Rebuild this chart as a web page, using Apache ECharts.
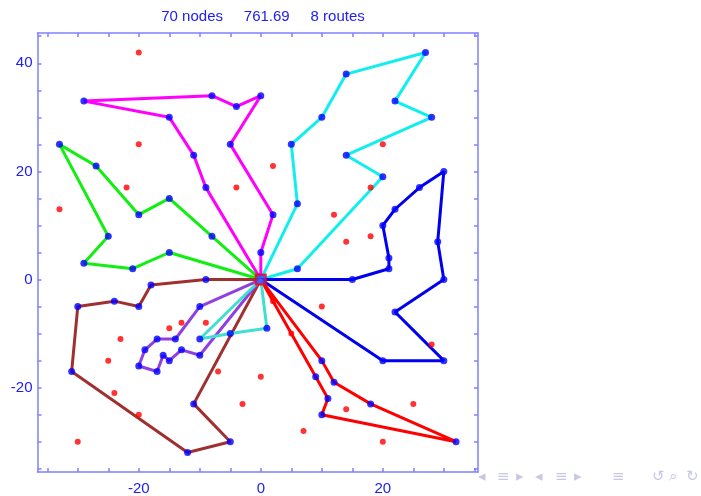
<!DOCTYPE html>
<html>
<head>
<meta charset="utf-8">
<script src="https://cdn.jsdelivr.net/npm/echarts@6/dist/echarts.min.js"></script>
<style>
  html, body { margin: 0; padding: 0; background: #fff; }
  #chart { width: 701px; height: 496px; }
</style>
</head>
<body>
<div id="chart"></div>
<script>
  // route node coordinates, each loop starts and ends at the depot
  const depot = [0, 0];
  const routeMagenta = [[0, 0], [-9, 17], [-11, 23], [-15, 30], [-29, 33], [-8, 34], [-4, 32], [0, 34], [-5, 25], [2, 12], [0, 5], [0, 0]];
  const routeGreen = [[0, 0], [-8, 8], [-15, 15], [-20, 12], [-27, 21], [-33, 25], [-25, 8], [-29, 3], [-21, 2], [-15, 5], [0, 0]];
  const routeCyan = [[0, 0], [6, 2], [20, 19], [14, 23], [28, 30], [22, 33], [27, 42], [14, 38], [10, 30], [5, 25], [6, 14], [0, 0]];
  const routeBlue = [[0, 0], [15, 0], [21, 2], [21, 4], [20, 10], [22, 13], [26, 17], [30, 20], [29, 7], [30, 0], [22, -6], [30, -15], [20, -15], [0, 0]];
  const routeRed = [[0, 0], [9, -18], [11, -22], [10, -25], [32, -30], [18, -23], [12, -19], [10, -15], [0, 0]];
  const routeBrown = [[0, 0], [-9, 0], [-18, -1], [-20, -5], [-24, -4], [-30, -5], [-31, -17], [-12, -32], [-5, -30], [-11, -23], [0, 0]];
  const routePurple = [[0, 0], [-10, -5], [-14, -11], [-17, -11], [-19, -13], [-20, -16], [-17, -17], [-16, -14], [-15, -15], [-13, -13], [-10, -14], [0, 0]];
  const routeTurq = [[0, 0], [-10, -11], [-5, -10], [1, -9], [0, 0]];

  // nodes not on any route
  const otherNodes = [[-20, 42], [-20, 25], [-22, 17], [-4, 17], [-33, 13], [2, 21], [20, 25], [18, 17], [12, 12], [14, 7], [18, 8],
    [2, -4], [10, -5], [5, -10], [28, -12], [0, -18], [14, -24], [25, -23], [7, -28], [20, -30],
    [-15, -9], [-13, -8], [-9, -8], [-23, -11], [-25, -15], [-7, -17], [-24, -21], [-3, -23], [-20, -25], [-30, -30]];

  const xTicks = [-35, -30, -25, -20, -15, -10, -5, 0, 5, 10, 15, 20, 25, 30, 35];
  const yTicks = [-35, -30, -25, -20, -15, -10, -5, 0, 5, 10, 15, 20, 25, 30, 35, 40, 45];
  const xLabels = [-20, 0, 20];
  const yLabels = [-20, 0, 20, 40];

  const routes = [
    { data: routeMagenta, color: '#ff00ff' },
    { data: routeGreen, color: '#11ee11' },
    { data: routeCyan, color: '#11eeee' },
    { data: routeBlue, color: '#0000ee' },
    { data: routeRed, color: '#ff0000' },
    { data: routeBrown, color: '#a03030' },
    { data: routePurple, color: '#9040e0' },
    { data: routeTurq, color: '#40e0d0' },
  ];

  const axisColor = '#8080ff';
  const labelColor = '#2020ee';

  function makeAxis(pos, min, max, ticks, labels) {
    return {
      type: 'value',
      position: pos,
      min: min,
      max: max,
      splitLine: { show: false },
      axisLine: { show: true, onZero: false, lineStyle: { color: axisColor, width: 1.5 } },
      axisTick: { show: true, inside: true, length: 4, customValues: ticks, lineStyle: { color: axisColor, width: 1.5 } },
      axisLabel: {
        show: labels.length > 0,
        customValues: labels,
        color: labelColor,
        fontSize: 15,
        fontFamily: 'Liberation Sans',
        margin: pos === 'left' ? 5 : 9,
      },
    };
  }

  // collect all route nodes (skip depot)
  const routeNodes = [];
  routes.forEach(r => r.data.forEach(p => { if (p[0] !== 0 || p[1] !== 0) routeNodes.push(p); }));

  const series = routes.map(r => ({
    type: 'line',
    data: r.data,
    showSymbol: false,
    silent: true,
    lineStyle: { color: r.color, width: 3 },
    z: 2,
  }));
  series.push({
    type: 'scatter',
    data: otherNodes,
    symbolSize: 6,
    itemStyle: { color: '#ff0000' },
    z: 3,
  });
  series.push({
    type: 'scatter',
    data: routeNodes,
    symbolSize: 7,
    itemStyle: { color: '#0000ff' },
    z: 4,
  });
  series.push({
    type: 'scatter',
    data: [depot],
    symbol: 'rect',
    symbolSize: 10,
    itemStyle: { color: '#4040ff', borderColor: '#ff0000', borderWidth: 2 },
    z: 5,
  });

  const navColor = '#c8c8e4';
  const navItems = [
    ['\u25C2', 484], ['\u2261', 503], ['\u25B8', 522],
    ['\u25C2', 541], ['\u2261', 561], ['\u25B8', 580],
    ['\u2261', 618],
    ['\u21BA', 658], ['\u2315', 675], ['\u21BB', 692],
  ];

  const chart = echarts.init(document.getElementById('chart'), null, { renderer: 'canvas' });
  chart.setOption({
    animation: false,
    title: {
      text: '70 nodes     761.69     8 routes',
      left: 258,
      textAlign: 'center',
      top: 4,
      textStyle: { color: labelColor, fontSize: 15, fontWeight: 'normal', fontFamily: 'Liberation Sans' },
    },
    grid: { left: 37.5, right: 223, top: 33, bottom: 23 },
    xAxis: [
      makeAxis('bottom', -36.6, 35.6, xTicks, xLabels),
      makeAxis('top', -36.6, 35.6, xTicks, []),
    ],
    yAxis: [
      makeAxis('left', -35.6, 45.6, yTicks, yLabels),
      makeAxis('right', -35.6, 45.6, yTicks, []),
    ],
    graphic: navItems.map(n => ({
      type: 'text',
      left: n[1] - 6,
      top: 470,
      style: { text: n[0], fill: navColor, font: '15px DejaVu Sans' },
    })),
    series: series,
  });
</script>
</body>
</html>
